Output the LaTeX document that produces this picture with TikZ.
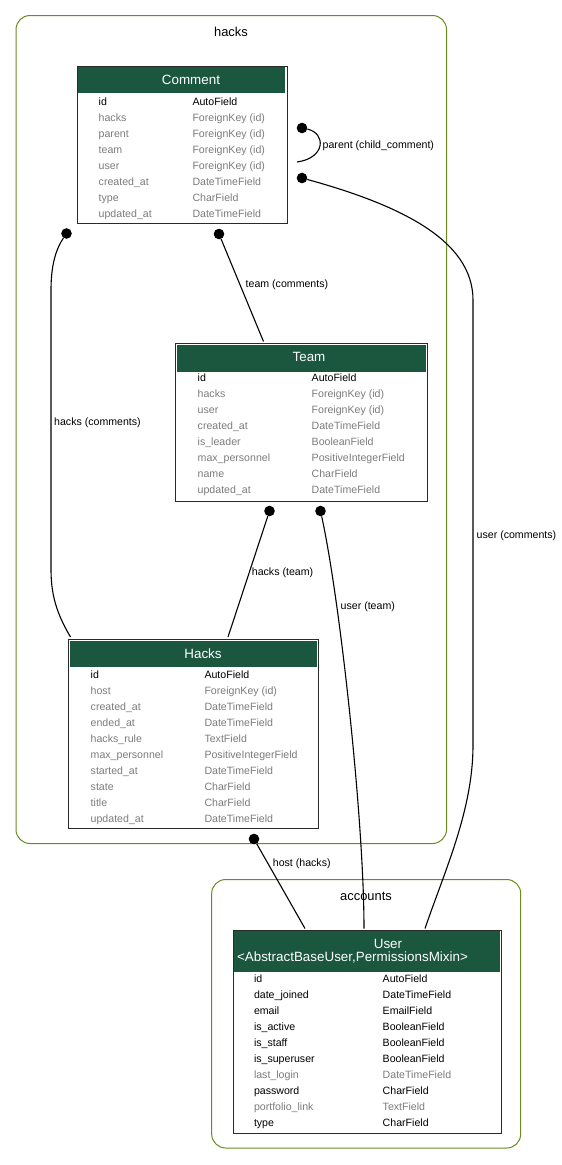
\documentclass[tikz,border=0pt]{standalone}
\usepackage{fontspec}
\setmainfont{Liberation Sans}
\usetikzlibrary{calc}

\definecolor{hdrgreen}{HTML}{1B563F}
\definecolor{fk}{HTML}{7B7B7B}
\definecolor{pk}{HTML}{000000}
\definecolor{clusterline}{HTML}{698B22}
\definecolor{tblline}{HTML}{2A2A2A}

\newcommand\fieldfont{\fontsize{10.6}{12}\selectfont}
\newcommand\titlefont{\fontsize{13.4}{15}\selectfont}
\newcommand\clusterfont{\fontsize{12.9}{15}\selectfont}

\tikzset{
  cluster/.style={draw=clusterline, line width=1pt, rounded corners=14pt},
  clusterlabel/.style={anchor=base, font=\clusterfont, inner sep=0pt},
  modelbox/.style={draw=tblline, line width=1.1pt, anchor=north west, inner sep=0pt},
  header/.style={fill=hdrgreen},
  modeltitle/.style={anchor=base, font=\titlefont, text=white, inner sep=0pt},
  fld/.style={anchor=base west, font=\fieldfont, inner sep=0pt},
  edgelabel/.style={anchor=base west, font=\fieldfont, inner sep=0pt},
  relation/.style={draw=black, line width=1.1pt},
  enddot/.style={circle, fill=black, inner sep=0pt, minimum size=10.6pt},
}

% one row per field: prefix, name x, type x, first row centre y, rows
\newcommand\modelrows[5]{%
  \foreach \fn/\ft/\fc [count=\i from 0] in {#5} {
    \node[fld, text=\fc] (#1-n\i) at (#2,{#4+16*\i+3.8}) {\fn};
    \node[fld, text=\fc] (#1-t\i) at (#3,{#4+16*\i+3.8}) {\ft};
  }}

\begin{document}
\begin{tikzpicture}[x=1pt, y=-1pt]
\useasboundingbox (0,0) rectangle (562,1165);

% app clusters
\draw[cluster] (16,15.5) rectangle (446.5,843.5);
\node[clusterlabel] (hackslabel) at (231,36.3) {hacks};
\draw[cluster] (211.7,879.5) rectangle (520.7,1148);
\node[clusterlabel] (accountslabel) at (366,900.3) {accounts};

% Comment
\node[modelbox, minimum width=210pt, minimum height=157pt] (comment) at (76.7,65.7) {};
\fill[header] (78.2,67.2) rectangle (285.2,93.3);
\node[modeltitle] (comment-title) at (191,84.3) {Comment};
\modelrows{comment}{98.5}{192.3}{101.5}{
  id/AutoField/pk,
  hacks/ForeignKey (id)/fk,
  parent/ForeignKey (id)/fk,
  team/ForeignKey (id)/fk,
  user/ForeignKey (id)/fk,
  created\_at/DateTimeField/fk,
  type/CharField/fk,
  updated\_at/DateTimeField/fk}

% Team
\node[modelbox, minimum width=252pt, minimum height=158pt] (team) at (175.3,343.3) {};
\fill[header] (176.8,344.8) rectangle (426.1,371.5);
\node[modeltitle] (team-title) at (309,361.3) {Team};
\modelrows{team}{197.5}{311.5}{378}{
  id/AutoField/pk,
  hacks/ForeignKey (id)/fk,
  user/ForeignKey (id)/fk,
  created\_at/DateTimeField/fk,
  is\_leader/BooleanField/fk,
  max\_personnel/PositiveIntegerField/fk,
  name/CharField/fk,
  updated\_at/DateTimeField/fk}

% Hacks
\node[modelbox, minimum width=250pt, minimum height=189pt] (hacksmodel) at (68.3,639) {};
\fill[header] (69.8,640.5) rectangle (316.8,667);
\node[modeltitle] (hacks-title) at (203,658.3) {Hacks};
\modelrows{hacks}{90.5}{204.3}{674.3}{
  id/AutoField/pk,
  host/ForeignKey (id)/fk,
  created\_at/DateTimeField/fk,
  ended\_at/DateTimeField/fk,
  hacks\_rule/TextField/fk,
  max\_personnel/PositiveIntegerField/fk,
  started\_at/DateTimeField/fk,
  state/CharField/fk,
  title/CharField/fk,
  updated\_at/DateTimeField/fk}

% User
\node[modelbox, minimum width=268.5pt, minimum height=203pt] (user) at (232.5,929.7) {};
\fill[header] (234,931.2) rectangle (499.5,971.5);
\node[modeltitle] (user-title) at (388,948.5) {User};
\node[modeltitle] (user-bases) at (352.5,961) {<AbstractBaseUser,PermissionsMixin>};
\modelrows{user}{253.8}{382.5}{978.8}{
  id/AutoField/pk,
  date\_joined/DateTimeField/pk,
  email/EmailField/pk,
  is\_active/BooleanField/pk,
  is\_staff/BooleanField/pk,
  is\_superuser/BooleanField/pk,
  last\_login/DateTimeField/fk,
  password/CharField/pk,
  portfolio\_link/TextField/fk,
  type/CharField/pk}

% relation end dots
\node[enddot] (d-parent) at (302,128) {};
\node[enddot] (d-cuser) at (302,178) {};
\node[enddot] (d-chacks) at (66.5,233.5) {};
\node[enddot] (d-cteam) at (219,234) {};
\node[enddot] (d-thacks) at (269.5,511) {};
\node[enddot] (d-tuser) at (320.5,511) {};
\node[enddot] (d-hhost) at (254,839) {};

% free ends on the target boxes
\coordinate (e-parent) at (297,162);
\coordinate (e-cuser) at (425,928.5);
\coordinate (e-chacks) at (70.5,637);
\coordinate (e-cteam) at (263.5,341.5);
\coordinate (e-thacks) at (228,637);
\coordinate (e-tuser) at (364,928.5);
\coordinate (e-hhost) at (305,928.5);

% relations
\draw[relation] (d-parent) .. controls (326,133) and (326,158) .. (e-parent);
\node[edgelabel] (l-parent) at (322.5,148.3) {parent (child\_comment)};

\draw[relation] (d-cuser) .. controls (400,205) and (473,240) .. (473,300)
  -- (473,745) .. controls (473,810) and (445,870) .. (e-cuser);
\node[edgelabel] (l-cuser) at (476.5,538.8) {user (comments)};

\draw[relation] (d-chacks) .. controls (56,249) and (51,265) .. (51,290)
  -- (51,570) .. controls (51,600) and (60,619) .. (e-chacks);
\node[edgelabel] (l-chacks) at (54,425.8) {hacks (comments)};

\draw[relation] (d-cteam) -- (e-cteam);
\node[edgelabel] (l-cteam) at (245.5,287.3) {team (comments)};

\draw[relation] (d-thacks) -- (e-thacks);
\node[edgelabel] (l-thacks) at (251.7,575.3) {hacks (team)};

\draw[relation] (d-tuser) .. controls (340,600) and (364,820) .. (e-tuser);
\node[edgelabel] (l-tuser) at (340.5,609.3) {user (team)};

\draw[relation] (d-hhost) -- (e-hhost);
\node[edgelabel] (l-hhost) at (272.7,866.3) {host (hacks)};
\end{tikzpicture}
\end{document}
